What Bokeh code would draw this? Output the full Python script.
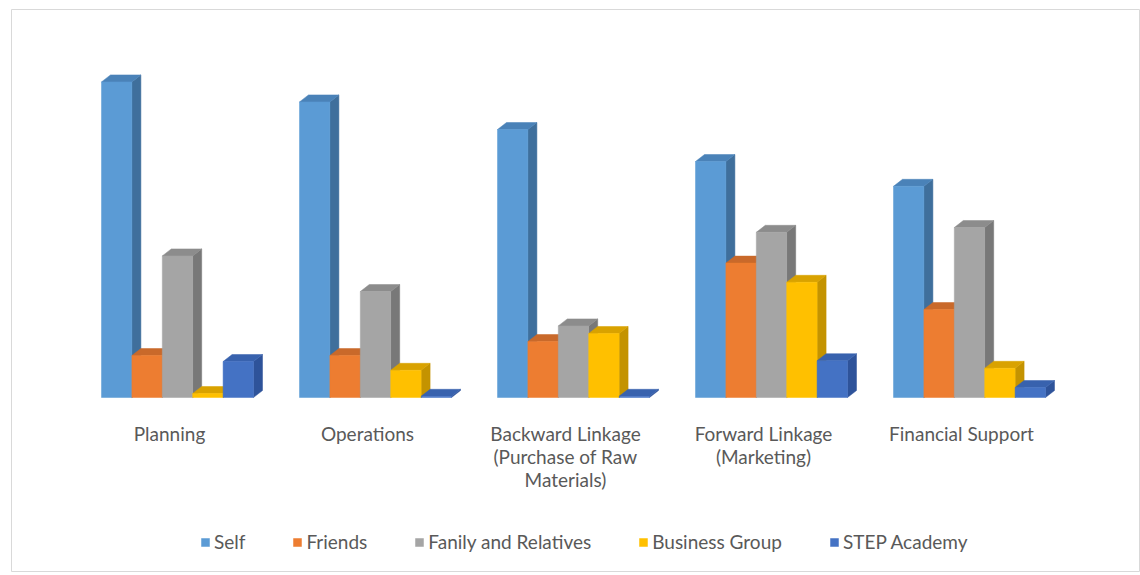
from bokeh.plotting import figure
from bokeh.models import Range1d, Legend, LegendItem, ColumnDataSource
from bokeh.core.properties import value
from bokeh.embed import file_html
from bokeh.resources import INLINE

categories = ["Planning", "Operations", "Backward Linkage\n(Purchase of Raw\nMaterials)",
              "Forward Linkage\n(Marketing)", "Financial Support"]
series = ["Self", "Friends", "Fanily and Relatives", "Business Group", "STEP Academy"]
self_vals = [78.9, 73.9, 67.0, 59.0, 52.8]
friends_vals = [10.5, 10.5, 14.0, 33.6, 22.0]
family_vals = [35.4, 26.5, 17.9, 41.3, 42.5]
business_vals = [1.0, 6.8, 16.0, 28.8, 7.3]
step_vals = [9.0, 0.3, 0.3, 9.2, 2.5]
all_vals = [self_vals, friends_vals, family_vals, business_vals, step_vals]

front_colors = ["#5B9BD5", "#ED7D31", "#A5A5A5", "#FFC000", "#4472C4"]
side_colors = ["#3F6F9C", "#B85F22", "#787878", "#C49300", "#2E539A"]
top_colors = ["#4A82B8", "#C9692A", "#8C8C8C", "#D9A200", "#3862AE"]

W, H = 1140, 575
px_per_cat = 198.0
px_per_unit = 4.0
bar_w = 30.4 / px_per_cat
dx = 9.0 / px_per_cat
dy = 7.0 / px_per_unit

p = figure(width=W, height=H, output_backend="svg", toolbar_location=None,
           min_border_left=11, min_border_right=0, min_border_top=9, min_border_bottom=4,
           x_range=Range1d(-166 / px_per_cat, (1129 - 166) / px_per_cat),
           y_range=Range1d(-174 / px_per_unit, (397 - 9) / px_per_unit))
p.xaxis.visible = False
p.yaxis.visible = False
p.xgrid.visible = False
p.ygrid.visible = False
p.outline_line_color = "#D9D9D9"
p.outline_line_width = 1
p.background_fill_color = "white"
p.border_fill_color = "white"

legend_items = []
for j, (name, vals) in enumerate(zip(series, all_vals)):
    lefts = [i + (j - 2.5) * bar_w for i in range(len(categories))]
    rights = [l + bar_w for l in lefts]
    side_xs = [[r, r + dx, r + dx, r] for r in rights]
    side_ys = [[0, dy, v + dy, v] for v in vals]
    top_xs = [[l, l + dx, r + dx, r] for l, r in zip(lefts, rights)]
    top_ys = [[v, v + dy, v + dy, v] for v in vals]
    p.patches(side_xs, side_ys, fill_color=side_colors[j], line_color=side_colors[j], line_width=0.5)
    p.patches(top_xs, top_ys, fill_color=top_colors[j], line_color=top_colors[j], line_width=0.5)
    r = p.quad(left=lefts, right=rights, bottom=[0] * len(vals), top=vals,
               fill_color=front_colors[j], line_color=front_colors[j], line_width=0.5)
    legend_items.append(LegendItem(label=name, renderers=[r]))

label_src = ColumnDataSource(dict(x=[i - 8 / px_per_cat for i in range(len(categories))],
                                  y=[-24.0 / px_per_unit] * len(categories),
                                  t=categories))
p.text(x="x", y="y", text="t", source=label_src, text_align="center", text_baseline="top",
       text_font=value("Lato"), text_font_size="19px", text_color="#595959",
       text_line_height=1.02)

legend = Legend(items=legend_items, orientation="horizontal", location=(189, 18),
                glyph_width=10, glyph_height=10, label_standoff=4, spacing=47,
                padding=0, margin=0, border_line_alpha=0, background_fill_alpha=0,
                label_text_font="Lato", label_text_font_size="19px", label_text_color="#595959",
                label_height=20)
p.add_layout(legend, "center")

open("out.html", "w").write(file_html(p, INLINE))
